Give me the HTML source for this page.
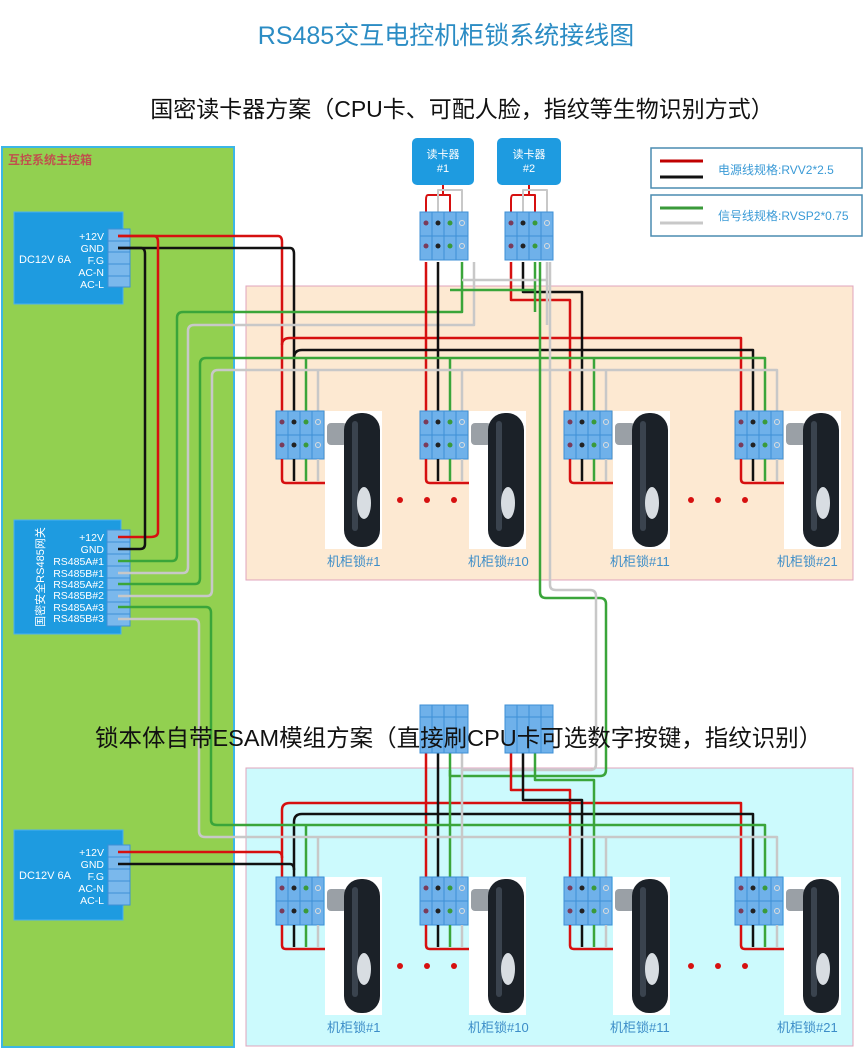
<!DOCTYPE html>
<html><head><meta charset="utf-8"><style>
html,body{margin:0;padding:0;background:#fff}
svg{display:block}
text{font-family:"Liberation Sans","Noto Sans CJK SC",sans-serif}
</style></head><body>
<svg width="864" height="1049" viewBox="0 0 864 1049" xmlns="http://www.w3.org/2000/svg">
<defs>
<g id="tb">
<rect x="0" y="0" width="48" height="48" fill="#6fb1ea" stroke="#3d8fd6" stroke-width="1"/>
<path d="M12 0V48M24 0V48M36 0V48M0 24H48" stroke="#3d8fd6" stroke-width="1"/>
<circle cx="6" cy="11" r="2.5" fill="#7a3b5a"/><circle cx="18" cy="11" r="2.5" fill="#222"/><circle cx="30" cy="11" r="2.5" fill="#3a9a3a"/><circle cx="42" cy="11" r="2.5" fill="none" stroke="#ddd"/>
<circle cx="6" cy="34" r="2.5" fill="#7a3b5a"/><circle cx="18" cy="34" r="2.5" fill="#222"/><circle cx="30" cy="34" r="2.5" fill="#3a9a3a"/><circle cx="42" cy="34" r="2.5" fill="none" stroke="#ddd"/>
</g>
<g id="lk">
<path d="M6 48V68Q6 72 10 72H70" stroke="#d61010" stroke-width="2.5" fill="none"/>
<path d="M18 48V70" stroke="#111" stroke-width="2.5"/>
<path d="M30 48V70" stroke="#3aa53a" stroke-width="2.5"/>
<path d="M42 48V70" stroke="#c8c8c8" stroke-width="2.5"/>
<rect x="49" y="0" width="57" height="138" fill="#fff"/>
<rect x="51" y="12" width="20" height="22" rx="4" fill="#9aa0a6"/>
<rect x="68" y="2" width="36" height="134" rx="17" fill="#1b2128"/>
<rect x="76" y="10" width="6" height="110" rx="3" fill="#3a434e"/>
<ellipse cx="88" cy="92" rx="7" ry="16" fill="#d8dde2"/>
</g>
<g id="rd">
<rect x="0" y="0" width="48" height="48" fill="#6fb1ea" stroke="#3d8fd6"/>
<path d="M12 0V48M24 0V48M36 0V48M0 12H48" stroke="#3d8fd6"/>
</g>
</defs>

<text x="446" y="44" font-size="25" fill="#2b8cc4" text-anchor="middle">RS485交互电控机柜锁系统接线图</text>
<text x="462" y="117" font-size="23" fill="#111" text-anchor="middle">国密读卡器方案（CPU卡、可配人脸，指纹等生物识别方式）</text>

<rect x="2" y="147" width="232" height="900" fill="#92d050" stroke="#3cb6e6" stroke-width="2"/>
<text x="8" y="164" font-size="12" font-weight="bold" fill="#c0504d">互控系统主控箱</text>
<rect x="246" y="286" width="607" height="294" fill="#fde9d2" stroke="#e0a4bc"/>
<rect x="246" y="768" width="607" height="278" fill="#ccfafd" stroke="#e0a4bc"/>

<rect x="651" y="148" width="211" height="40" fill="#fff" stroke="#4a8cb0" stroke-width="1.5"/>
<rect x="651" y="195" width="211" height="41" fill="#fff" stroke="#4a8cb0" stroke-width="1.5"/>
<path d="M660 161H703" stroke="#c00000" stroke-width="3"/><path d="M660 177H703" stroke="#111" stroke-width="3"/>
<path d="M660 208H703" stroke="#3a9a3a" stroke-width="3"/><path d="M660 223H703" stroke="#c8c8c8" stroke-width="3"/>
<text x="718" y="174" font-size="12" fill="#3a9ad6">电源线规格:RVV2*2.5</text>
<text x="718" y="220" font-size="12" fill="#3a9ad6">信号线规格:RVSP2*0.75</text>

<rect x="412" y="138" width="62" height="47" rx="5" fill="#1e9be0"/>
<text x="443" y="158" font-size="11" fill="#fff" text-anchor="middle">读卡器</text><text x="443" y="172" font-size="11" fill="#fff" text-anchor="middle">#1</text>
<rect x="497" y="138" width="64" height="47" rx="5" fill="#1e9be0"/>
<text x="529" y="158" font-size="11" fill="#fff" text-anchor="middle">读卡器</text><text x="529" y="172" font-size="11" fill="#fff" text-anchor="middle">#2</text>

<rect x="14" y="212" width="109" height="92" fill="#1e9be0" stroke="#4ab0f0"/>
<text x="19" y="263" font-size="11" fill="#fff">DC12V 6A</text>
<g font-size="10.5" fill="#fff" text-anchor="end">
<text x="104" y="240">+12V</text><text x="104" y="252">GND</text><text x="104" y="264">F.G</text><text x="104" y="276">AC-N</text><text x="104" y="288">AC-L</text></g>
<rect x="108" y="229" width="22" height="58" fill="#7ab8ec" stroke="#3d8fd6"/>
<path d="M108 241H130M108 252H130M108 264H130M108 276H130" stroke="#3d8fd6"/>

<rect x="14" y="520" width="107" height="114" fill="#1e9be0" stroke="#4ab0f0"/>
<text transform="translate(44,577) rotate(-90)" font-size="11" fill="#fff" text-anchor="middle">国密安全RS485网关</text>
<g font-size="10.5" fill="#fff" text-anchor="end">
<text x="104" y="541">+12V</text><text x="104" y="553">GND</text><text x="104" y="565">RS485A#1</text><text x="104" y="577">RS485B#1</text><text x="104" y="588">RS485A#2</text><text x="104" y="599">RS485B#2</text><text x="104" y="611">RS485A#3</text><text x="104" y="622">RS485B#3</text></g>
<rect x="107" y="530" width="23" height="96" fill="#7ab8ec" stroke="#3d8fd6"/>
<path d="M107 542H130M107 554H130M107 566H130M107 578H130M107 590H130M107 602H130M107 614H130" stroke="#3d8fd6"/>

<rect x="14" y="830" width="109" height="90" fill="#1e9be0" stroke="#4ab0f0"/>
<text x="19" y="879" font-size="11" fill="#fff">DC12V 6A</text>
<g font-size="10.5" fill="#fff" text-anchor="end">
<text x="104" y="856">+12V</text><text x="104" y="868">GND</text><text x="104" y="880">F.G</text><text x="104" y="892">AC-N</text><text x="104" y="904">AC-L</text></g>
<rect x="108" y="845" width="22" height="60" fill="#7ab8ec" stroke="#3d8fd6"/>
<path d="M108 857H130M108 869H130M108 881H130M108 893H130" stroke="#3d8fd6"/>

<g fill="none" stroke-width="2.5" stroke-linejoin="round">
<path d="M118 236H278Q282 236 282 242V411" stroke="#d61010"/>
<path d="M118 248H290Q294 248 294 254V411" stroke="#111"/>
<path d="M118 236H154Q158 236 158 242V532Q158 537 150 537H118" stroke="#d61010"/>
<path d="M118 248H141Q145 248 145 254V544Q145 549 140 549H118" stroke="#111"/>
<path d="M282 345Q282 338 290 338H426V411M426 338H570V411M570 338H741V411" stroke="#d61010"/>
<path d="M294 358Q294 350 302 350H438V411M438 350H582V411M582 350H753V411" stroke="#111"/>
<path d="M118 561H172Q177 561 177 555V318Q177 312 183 312H462V262" stroke="#3aa53a"/>
<path d="M118 573H183Q188 573 188 567V331Q188 325 194 325H474V262" stroke="#c8c8c8"/>
<path d="M118 584H195Q200 584 200 578V364Q200 358 206 358H306V411M306 358H450V411M450 358H594V411M594 358H765V411" stroke="#3aa53a"/>
<path d="M118 596H207Q212 596 212 590V376Q212 370 218 370H318V411M318 370H462V411M462 370H606V411M606 370H777V411" stroke="#c8c8c8"/>
<path d="M426 262V338M511 262V300H570V338" stroke="#d61010"/>
<path d="M438 262V350M523 262V292H582V350" stroke="#111"/>
<path d="M535 262V312M450 290H535" stroke="#3aa53a"/>
<path d="M547 262V325M462 280H547" stroke="#c8c8c8"/>
<path d="M443 185V195H428Q426 195 426 200V212M443 195H450V212" stroke="#d61010" stroke-width="2"/>
<path d="M443 190H438V212M443 190H462V212" stroke="#c8c8c8" stroke-width="2"/>
<path d="M529 185V195H513Q511 195 511 200V212M529 195H535V212" stroke="#d61010" stroke-width="2"/>
<path d="M529 190H523V212M529 190H547V212" stroke="#c8c8c8" stroke-width="2"/>
<path d="M540 262V592Q540 598 546 598H600Q606 598 606 604V770Q606 776 600 776H450V752" stroke="#3aa53a"/>
<path d="M550 262V585Q550 590 556 590H590Q596 590 596 596V764Q596 770 590 770H462V752" stroke="#c8c8c8"/>
<path d="M118 852H278Q282 852 282 858V877" stroke="#d61010"/>
<path d="M118 864H290Q294 864 294 870V877" stroke="#111"/>
<path d="M282 858V810Q282 803 290 803H426V877M426 803H570V877M570 803H741V877M426 752V803M511 752V790H570V803" stroke="#d61010"/>
<path d="M294 870V822Q294 814 302 814H438V877M438 814H582V877M582 814H753V877M438 752V814M523 752V800H582V814" stroke="#111"/>
<path d="M118 607H206Q211 607 211 613V820Q211 825 217 825H306V877M306 825H450V877M450 825H594V877M594 825H765V877M450 770V825M535 752V780H594V825" stroke="#3aa53a"/>
<path d="M118 619H194Q199 619 199 625V831Q199 837 205 837H318V877M318 837H462V877M462 837H606V877M606 837H777V877M462 770V837" stroke="#c8c8c8"/>
</g>

<use href="#tb" x="420" y="212"/><use href="#tb" x="505" y="212"/>
<use href="#rd" x="420" y="705"/><use href="#rd" x="505" y="705"/>

<use href="#tb" x="276" y="411"/><use href="#lk" x="276" y="411"/>
<use href="#tb" x="420" y="411"/><use href="#lk" x="420" y="411"/>
<use href="#tb" x="564" y="411"/><use href="#lk" x="564" y="411"/>
<use href="#tb" x="735" y="411"/><use href="#lk" x="735" y="411"/>
<use href="#tb" x="276" y="877"/><use href="#lk" x="276" y="877"/>
<use href="#tb" x="420" y="877"/><use href="#lk" x="420" y="877"/>
<use href="#tb" x="564" y="877"/><use href="#lk" x="564" y="877"/>
<use href="#tb" x="735" y="877"/><use href="#lk" x="735" y="877"/>

<g fill="#d61010">
<circle cx="400" cy="500" r="3"/><circle cx="427" cy="500" r="3"/><circle cx="454" cy="500" r="3"/>
<circle cx="691" cy="500" r="3"/><circle cx="718" cy="500" r="3"/><circle cx="745" cy="500" r="3"/>
<circle cx="400" cy="966" r="3"/><circle cx="427" cy="966" r="3"/><circle cx="454" cy="966" r="3"/>
<circle cx="691" cy="966" r="3"/><circle cx="718" cy="966" r="3"/><circle cx="745" cy="966" r="3"/>
</g>
<g font-size="13" fill="#3c8dc8">
<text x="327" y="566">机柜锁#1</text><text x="468" y="566">机柜锁#10</text><text x="610" y="566">机柜锁#11</text><text x="777" y="566">机柜锁#21</text>
<text x="327" y="1032">机柜锁#1</text><text x="468" y="1032">机柜锁#10</text><text x="610" y="1032">机柜锁#11</text><text x="777" y="1032">机柜锁#21</text>
</g>

<text x="95" y="746" font-size="23.5" fill="#111">锁本体自带ESAM模组方案（直接刷CPU卡可选数字按键，指纹识别）</text>
</svg>
</body></html>
